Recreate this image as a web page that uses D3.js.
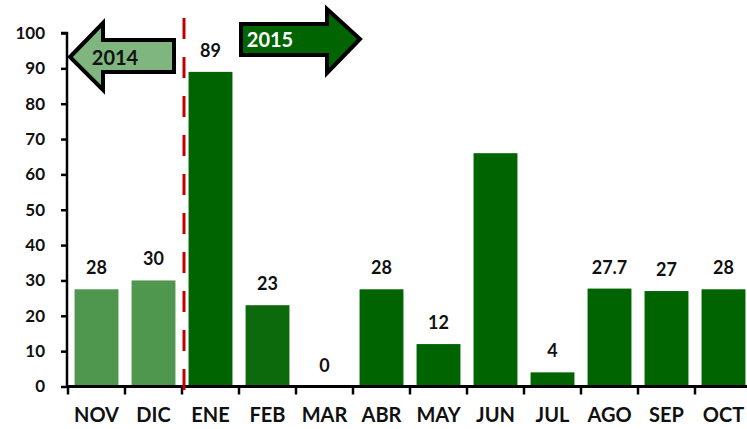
<!DOCTYPE html>
<html>
<head>
<meta charset="utf-8">
<script src="https://cdn.jsdelivr.net/npm/d3@7"></script>
<style>
  body { margin: 0; background: #fff; }
  text { font-family: Lato, "Open Sans", sans-serif; font-weight: bold; }
</style>
</head>
<body>
<div id="chart"></div>
<script>
const months = ['NOV', 'DIC', 'ENE', 'FEB', 'MAR', 'ABR', 'MAY', 'JUN', 'JUL', 'AGO', 'SEP', 'OCT'];
const values = [27.5, 30, 89, 23, 0, 27.5, 12, 66, 4, 27.7, 27, 27.5];
const valueLabels = ['28', '30', '89', '23', '0', '28', '12', '', '4', '27.7', '27', '28'];
const barColors = ['#4f964f', '#4f964f', '#006400', '#0c690c', '#006400', '#006400', '#006400', '#006400', '#006400', '#006400', '#006400', '#006400'];
const yTicks = [0, 10, 20, 30, 40, 50, 60, 70, 80, 90, 100];

const W = 747, H = 429;
const svg = d3.select('#chart').append('svg').attr('width', W).attr('height', H);

const x = d3.scaleBand().domain(months).range([68, 752]).paddingInner(0.23).paddingOuter(0.115);
const y = d3.scaleLinear().domain([0, 100]).range([386.5, 33]);

// bars
svg.selectAll('rect.bar').data(months).join('rect')
  .attr('class', 'bar')
  .attr('x', d => x(d))
  .attr('width', x.bandwidth())
  .attr('y', (d, i) => y(values[i]))
  .attr('height', (d, i) => y(0) - y(values[i]))
  .attr('fill', (d, i) => barColors[i]);

// value labels
svg.selectAll('text.val').data(months).join('text')
  .attr('class', 'val')
  .attr('x', d => x(d) + x.bandwidth() / 2)
  .attr('y', (d, i) => y(values[i]) - 15)
  .attr('text-anchor', 'middle')
  .attr('font-size', 18)
  .attr('fill', '#111')
  .text((d, i) => valueLabels[i]);

// y axis
const yAxis = svg.append('g').attr('transform', 'translate(67,0)')
  .call(d3.axisLeft(y).tickValues(yTicks).tickSize(6).tickPadding(16));
yAxis.select('.domain').attr('stroke', '#000').attr('stroke-width', 2.5).attr('d', `M-6,${y(100)}H0V${y(0)}`);
yAxis.selectAll('.tick line').attr('stroke', '#000').attr('stroke-width', 2.5);
yAxis.selectAll('.tick text').attr('font-size', 17).attr('fill', '#111');

// x axis line with boundary ticks
const step = x.step();
const bounds = d3.range(months.length + 1).map(i => 68 + i * step);
svg.append('line').attr('x1', 66).attr('x2', W).attr('y1', y(0)).attr('y2', y(0))
  .attr('stroke', '#000').attr('stroke-width', 3);
svg.selectAll('line.xt').data(bounds).join('line')
  .attr('class', 'xt')
  .attr('x1', d => d).attr('x2', d => d)
  .attr('y1', y(0)).attr('y2', y(0) + 8)
  .attr('stroke', '#000').attr('stroke-width', 2.5);
svg.selectAll('text.xl').data(months).join('text')
  .attr('class', 'xl')
  .attr('x', d => x(d) + x.bandwidth() / 2)
  .attr('y', 422)
  .attr('text-anchor', 'middle')
  .attr('font-size', 20)
  .attr('fill', '#111')
  .text(d => d);

// dashed divider between 2014 and 2015
const divX = bounds[2] + 2;
svg.append('line').attr('x1', divX).attr('x2', divX).attr('y1', 18).attr('y2', 394)
  .attr('stroke', '#c00000').attr('stroke-width', 3).attr('stroke-dasharray', '21,18');

// 2014 arrow (left)
svg.append('path')
  .attr('d', 'M70,57 L103,23 L103,40 L174,40 L174,72 L103,72 L103,90 Z')
  .attr('fill', '#7fb57f').attr('stroke', '#000').attr('stroke-width', 4).attr('stroke-linejoin', 'miter');
svg.append('text').attr('x', 115).attr('y', 65).attr('text-anchor', 'middle')
  .attr('font-size', 20).attr('fill', '#111').text('2014');

// 2015 arrow (right)
svg.append('path')
  .attr('d', 'M241,24 L327,24 L327,9 L360,39 L327,73 L327,55 L241,55 Z')
  .attr('fill', '#006400').attr('stroke', '#000').attr('stroke-width', 4).attr('stroke-linejoin', 'miter');
svg.append('text').attr('x', 270).attr('y', 47).attr('text-anchor', 'middle')
  .attr('font-size', 20).attr('fill', '#fff').text('2015');
</script>
</body>
</html>
